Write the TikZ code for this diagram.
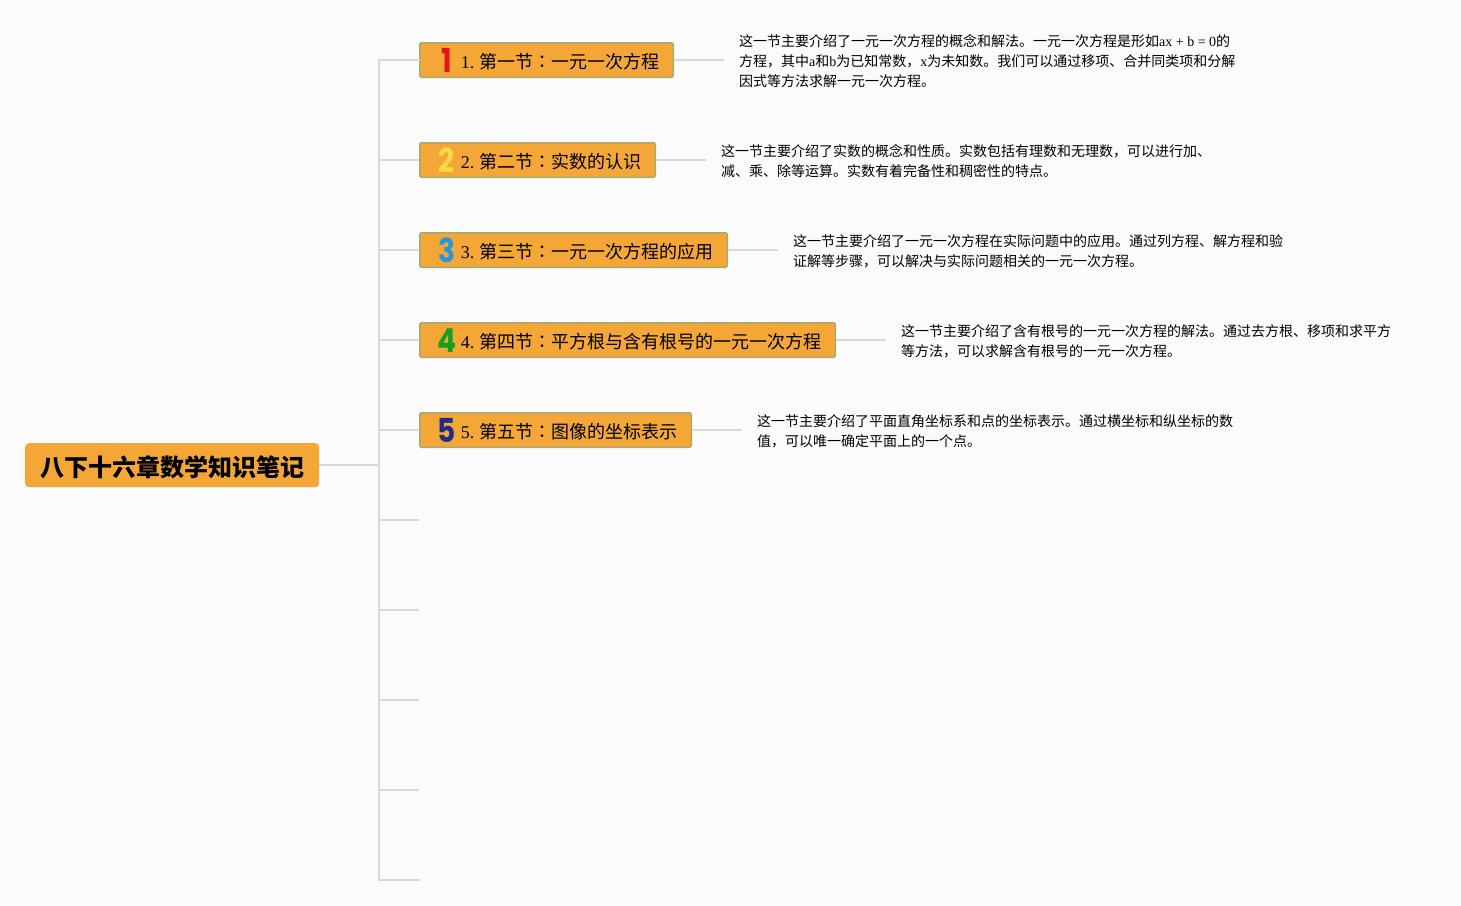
\documentclass[tikz,border=0pt]{standalone}
\usepackage{fontspec}
\usepackage{graphicx}
\setmainfont{Liberation Serif}
\newfontfamily\cjk{Noto Sans CJK SC}
\newfontfamily\cjktc{Noto Sans CJK TC}
\newfontfamily\digitfont{Poppins}[BoldFont=* Bold]
\definecolor{pagebg}{HTML}{FBFBFB}
\definecolor{orangefill}{HTML}{F4A636}
\definecolor{boxedge}{HTML}{A4AB72}
\definecolor{linkgray}{HTML}{D9D9D9}
\definecolor{numred}{HTML}{E3141C}
\definecolor{numyellow}{HTML}{FBD74A}
\definecolor{numblue}{HTML}{2A96D8}
\definecolor{numgreen}{HTML}{14A01E}
\definecolor{numnavy}{HTML}{1F2D86}
\newcommand{\numicon}[2]{\hspace*{18.5pt}\makebox[17pt][c]{\raisebox{-5.5pt}[0pt][0pt]{\scalebox{.85}[1]{\fontsize{33}{33}\selectfont\digitfont\bfseries\textcolor{#1}{#2}}}}\hspace*{5.5pt}}
\newcommand{\colonmark}{{\cjktc ：}}
\newcommand{\branchtext}[2]{\raisebox{-1.5pt}[\height][\depth]{#1.\hspace{5.5pt}{\cjk #2}}}
\tikzset{
  x=1pt,y=-1pt,
  rootbox/.style={fill=orangefill,rounded corners=4pt,minimum width=294pt,minimum height=44pt,inner sep=0pt,anchor=north west,font=\fontsize{24}{28}\selectfont\cjk\bfseries},
  branchbox/.style={draw=boxedge,line width=1.5pt,fill=orangefill,rounded corners=1.5pt,text width=#1,minimum height=34.5pt,inner xsep=0pt,inner ysep=0pt,align=left,anchor=north west,font=\fontsize{18}{22}\selectfont\frenchspacing},
  desc/.style={anchor=north west,inner sep=0pt,align=left,font=\fontsize{14}{20}\selectfont},
  link/.style={draw=linkgray,line width=1.6pt},
}
\begin{document}
\begin{tikzpicture}
\useasboundingbox[fill=pagebg] (0,0) rectangle (1461,905);
\node[rootbox] (root) at (25,443) {\raisebox{-2pt}[\height][\depth]{八下十六章数学知识笔记}};
\node[branchbox=253.5pt] (b1) at (419,42) {\numicon{numred}{1}\branchtext{1}{第一节\colonmark 一元一次方程}};
\node[branchbox=235.5pt] (b2) at (419,142) {\numicon{numyellow}{2}\branchtext{2}{第二节\colonmark 实数的认识}};
\node[branchbox=307.5pt] (b3) at (419,232) {\numicon{numblue}{3}\branchtext{3}{第三节\colonmark 一元一次方程的应用}};
\node[branchbox=415.5pt] (b4) at (419,322) {\numicon{numgreen}{4}\branchtext{4}{第四节\colonmark 平方根与含有根号的一元一次方程}};
\node[branchbox=271.5pt] (b5) at (419,412) {\numicon{numnavy}{5}\branchtext{5}{第五节\colonmark 图像的坐标表示}};
\node[desc] (d1) at (739,34) {{\cjk 这一节主要介绍了一元一次方程的概念和解法。一元一次方程是形如}ax + b = 0{\cjk 的}\\{\cjk 方程，其中}a{\cjk 和}b{\cjk 为已知常数，}x{\cjk 为未知数。我们可以通过移项、合并同类项和分解}\\{\cjk 因式等方法求解一元一次方程。}};
\node[desc] (d2) at (721,144) {\cjk 这一节主要介绍了实数的概念和性质。实数包括有理数和无理数，可以进行加、\\\cjk 减、乘、除等运算。实数有着完备性和稠密性的特点。};
\node[desc] (d3) at (793,234) {\cjk 这一节主要介绍了一元一次方程在实际问题中的应用。通过列方程、解方程和验\\\cjk 证解等步骤，可以解决与实际问题相关的一元一次方程。};
\node[desc] (d4) at (901,324) {\cjk 这一节主要介绍了含有根号的一元一次方程的解法。通过去方根、移项和求平方\\\cjk 等方法，可以求解含有根号的一元一次方程。};
\node[desc] (d5) at (757,414) {\cjk 这一节主要介绍了平面直角坐标系和点的坐标表示。通过横坐标和纵坐标的数\\\cjk 值，可以唯一确定平面上的一个点。};
\coordinate (top) at (379,60);
\coordinate (hub) at (379,465);
\coordinate (bot) at (379,880);
\foreach \yy/\nm in {520/e6,610/e7,700/e8,790/e9,880/e10}{\coordinate (\nm) at (419,\yy);}
\draw[link,line cap=rect] (b1.west) -- (top) -- (bot) -- (e10);
\draw[link] (root.east |- hub) -- (hub);
\foreach \nm in {b2,b3,b4,b5}{\draw[link] (\nm.west) -- (\nm.west -| hub);}
\foreach \nm in {e6,e7,e8,e9}{\draw[link] (\nm) -- (\nm -| hub);}
\foreach \nm/\en in {b1/724,b2/706,b3/778,b4/886,b5/742}{\coordinate (s\nm) at (\en,0); \draw[link] (\nm.east) -- (\nm.east -| s\nm);}
\end{tikzpicture}
\end{document}
